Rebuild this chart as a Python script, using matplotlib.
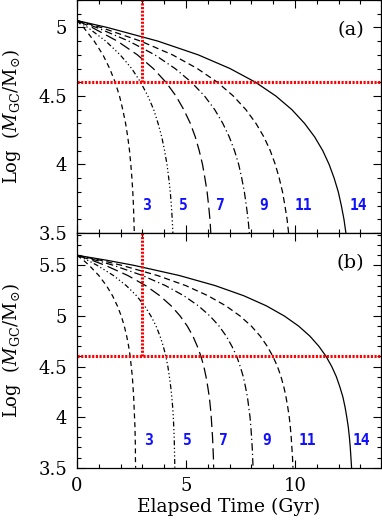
import matplotlib
matplotlib.use('Agg')
import matplotlib.pyplot as plt
from matplotlib.ticker import MultipleLocator, FormatStrFormatter

plt.rcParams['font.family'] = 'DejaVu Serif'
plt.rcParams['mathtext.fontset'] = 'dejavuserif'

# curve labels (blue numbers) and line styles, inner -> outer
labels = ['3', '5', '7', '9', '11', '14']
styles = [(0, (4, 3)), (0, (4, 2, 1, 2, 1, 2, 1, 2)), (0, (9, 4)),
          (0, (6, 2.5, 1, 2.5)), (0, (5, 3)), '-']

# panel (a): log mass levels and the time each curve reaches them
logm_a = [5.05, 5.0, 4.9, 4.8, 4.7, 4.6, 4.5, 4.4, 4.3, 4.2, 4.1, 4.0,
          3.9, 3.8, 3.7, 3.6, 3.5]
time_a = [
    [0, 0.30, 0.79, 1.19, 1.50, 1.75, 1.95, 2.10, 2.23, 2.33, 2.41, 2.47, 2.52, 2.56, 2.59, 2.61, 2.63],
    [0, 0.49, 1.32, 1.98, 2.51, 2.92, 3.25, 3.52, 3.72, 3.89, 4.02, 4.13, 4.21, 4.28, 4.33, 4.37, 4.40],
    [0, 0.69, 1.85, 2.77, 3.50, 4.08, 4.54, 4.90, 5.20, 5.43, 5.61, 5.76, 5.87, 5.97, 6.04, 6.10, 6.14],
    [0, 0.89, 2.38, 3.57, 4.50, 5.25, 5.85, 6.32, 6.69, 6.99, 7.23, 7.42, 7.56, 7.68, 7.77, 7.85, 7.91],
    [0, 1.09, 2.92, 4.38, 5.52, 6.44, 7.17, 7.75, 8.21, 8.58, 8.87, 9.10, 9.28, 9.43, 9.54, 9.64, 9.71],
    [0, 1.38, 3.71, 5.56, 7.02, 8.19, 9.12, 9.86, 10.44, 10.91, 11.28, 11.57, 11.80, 11.99, 12.13, 12.25, 12.34],
]

# panel (b)
logm_b = [5.6, 5.55, 5.5, 5.4, 5.3, 5.2, 5.1, 5.0, 4.9, 4.8, 4.7, 4.6,
          4.5, 4.4, 4.3, 4.2, 4.1, 4.0, 3.9, 3.8, 3.7, 3.6, 3.5]
time_b = [
    [0, 0.30, 0.56, 1.00, 1.35, 1.63, 1.85, 2.03, 2.17, 2.28, 2.37, 2.44, 2.49, 2.54, 2.57, 2.60, 2.62, 2.64, 2.66, 2.67, 2.68, 2.68, 2.69],
    [0, 0.49, 0.93, 1.67, 2.26, 2.73, 3.10, 3.39, 3.63, 3.81, 3.96, 4.08, 4.17, 4.24, 4.30, 4.35, 4.39, 4.42, 4.44, 4.46, 4.47, 4.48, 4.49],
    [0, 0.69, 1.30, 2.33, 3.15, 3.80, 4.32, 4.73, 5.06, 5.32, 5.52, 5.69, 5.82, 5.92, 6.00, 6.07, 6.12, 6.16, 6.19, 6.22, 6.24, 6.26, 6.27],
    [0, 0.89, 1.68, 3.00, 4.06, 4.90, 5.57, 6.10, 6.52, 6.85, 7.11, 7.33, 7.49, 7.63, 7.73, 7.82, 7.88, 7.94, 7.98, 8.01, 8.04, 8.06, 8.08],
    [0, 1.09, 2.06, 3.69, 4.99, 6.01, 6.83, 7.48, 8.00, 8.41, 8.73, 8.99, 9.20, 9.36, 9.49, 9.59, 9.67, 9.74, 9.79, 9.83, 9.86, 9.89, 9.91],
    [0, 1.38, 2.62, 4.69, 6.34, 7.65, 8.69, 9.51, 10.17, 10.69, 11.10, 11.43, 11.69, 11.90, 12.06, 12.20, 12.30, 12.38, 12.45, 12.50, 12.54, 12.57, 12.60],
]

# red reference lines
cut_time = 3.0
cut_logm = 4.6

# where the blue numbers sit
label_t_a = [3.18, 4.89, 6.60, 8.55, 10.41, 12.90]
label_y_a = 3.70
label_t_b = [3.29, 5.05, 6.73, 8.70, 10.58, 13.06]
label_y_b = 3.77

xmax = 13.95

fig = plt.figure(figsize=(3.82, 5.20), dpi=100)
ax1 = fig.add_axes([77 / 382, 1 - 233 / 520, 304 / 382, 233 / 520])
ax2 = fig.add_axes([77 / 382, 1 - 467.7 / 520, 304 / 382, 234.7 / 520])

panels = [
    (ax1, logm_a, time_a, label_t_a, label_y_a, (3.5, 5.2), '(a)'),
    (ax2, logm_b, time_b, label_t_b, label_y_b, (3.5, 5.82), '(b)'),
]

for ax, logm, times, lt, ly, ylim, tag in panels:
    for t, ls in zip(times, styles):
        ax.plot(t, logm, color='black', lw=0.9, ls=ls)
    ax.plot([0, xmax], [cut_logm, cut_logm], color='red', lw=2.2,
            ls=(0, (0.7, 0.5)))
    ax.plot([cut_time, cut_time], [cut_logm, ylim[1]], color='red', lw=2.2,
            ls=(0, (0.7, 0.5)))
    for x, lab in zip(lt, labels):
        ax.text(x, ly, lab, color='#1010ff', fontsize=10.5, weight='bold',
                family='DejaVu Sans Mono', ha='center', va='center')
    ax.text(0.944, 0.87, tag, transform=ax.transAxes, ha='right',
            va='center', fontsize=14)
    ax.set_xlim(0, xmax)
    ax.set_ylim(*ylim)
    ax.xaxis.set_major_locator(MultipleLocator(5))
    ax.xaxis.set_minor_locator(MultipleLocator(1))
    ax.yaxis.set_major_locator(MultipleLocator(0.5))
    ax.yaxis.set_minor_locator(MultipleLocator(0.1))
    ax.yaxis.set_major_formatter(FormatStrFormatter('%g'))
    ax.tick_params(which='both', direction='in', top=True, right=True,
                   labelsize=13, width=0.8, pad=7)
    ax.tick_params(which='major', length=5.5)
    ax.tick_params(which='minor', length=3)
    for sp in ax.spines.values():
        sp.set_linewidth(0.9)
    pos = ax.get_position()
    fig.text(12 / 382, (pos.y0 + pos.y1) / 2,
             r'Log  $(M_{\rm GC}/{\rm M}_{\odot})$', rotation=90,
             ha='center', va='center', fontsize=13)

ax1.tick_params(labelbottom=False)
ax2.set_xlabel('Elapsed Time (Gyr)', fontsize=13.5, labelpad=2)

fig.savefig('out.png', dpi=100)
